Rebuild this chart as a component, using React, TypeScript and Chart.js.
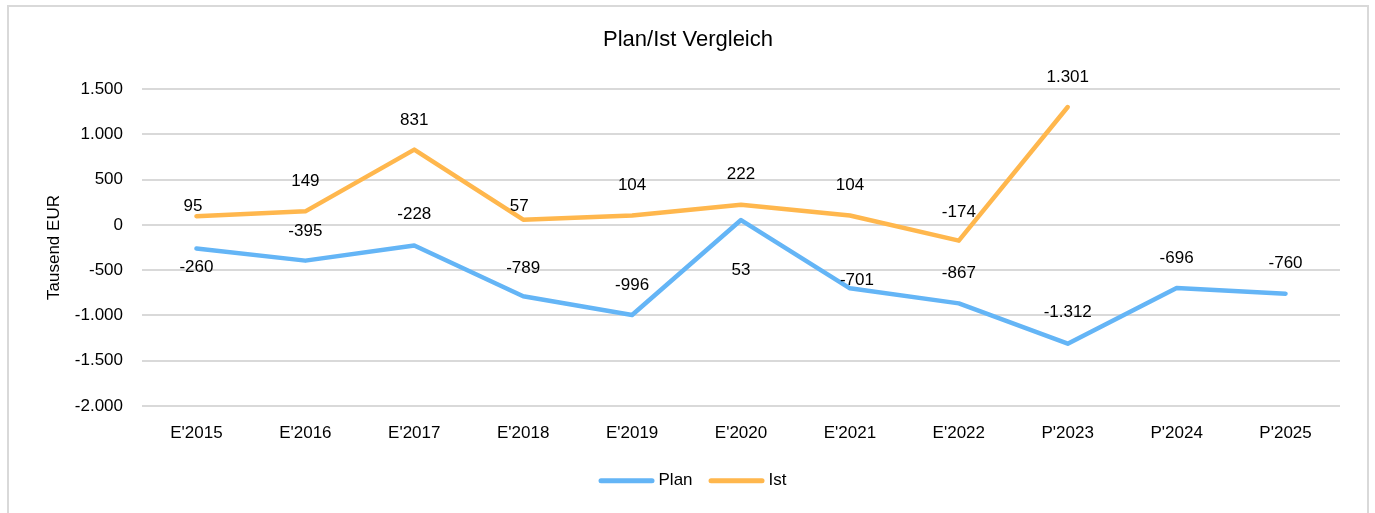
import React, { useEffect, useRef } from "react";
import { Chart, registerables } from "chart.js";

Chart.register(...registerables);

const categories = ["E'2015", "E'2016", "E'2017", "E'2018", "E'2019", "E'2020", "E'2021", "E'2022", "P'2023", "P'2024", "P'2025"];
const planValues = [-260, -395, -228, -789, -996, 53, -701, -867, -1312, -696, -760];
const istValues: (number | null)[] = [95, 149, 831, 57, 104, 222, 104, -174, 1301, null, null];
const yTickMin = -2000;
const yTickMax = 1500;
const yTickStep = 500;

// label placement relative to each point [dx, dy] in px
const planLabelOffsets = [[0, 19], [0, -29], [0, -31], [0, -28], [0, -30], [0, 50], [7, -8], [0, -30], [0, -31], [0, -30], [0, -30]];
const istLabelOffsets = [[-3.5, -10], [0, -30], [0, -29], [-4, -13], [0, -30], [0, -30], [0, -30], [0, -28.6], [0, -30], [0, -30], [0, -30]];

const BLUE = "#64B5F6";
const ORANGE = "#FFB74D";
const FONT = "'Liberation Sans', Arial, sans-serif";
const TEXT = "#000000";

function fmt(v: number): string {
  const s = Math.abs(Math.round(v)).toString();
  const withDots = s.replace(/\B(?=(\d{3})+(?!\d))/g, ".");
  return (v < 0 ? "-" : "") + withDots;
}

const labelPlugin = {
  id: "pointLabels",
  afterDatasetsDraw(chart: any) {
    const ctx = chart.ctx;
    const offsets = [planLabelOffsets, istLabelOffsets];
    ctx.save();
    ctx.font = `17px ${FONT}`;
    ctx.fillStyle = TEXT;
    ctx.textAlign = "center";
    ctx.textBaseline = "middle";
    chart.data.datasets.forEach((ds: any, i: number) => {
      const meta = chart.getDatasetMeta(i);
      meta.data.forEach((pt: any, j: number) => {
        const v = ds.data[j];
        if (v === null || v === undefined) return;
        const [dx, dy] = offsets[i][j];
        ctx.fillText(fmt(v), pt.x + dx, pt.y + dy);
      });
    });
    ctx.restore();
  },
};

// legend drawn below the x axis, in the space reserved by layout padding
const lineLegendPlugin = {
  id: "lineLegend",
  afterDraw(chart: any) {
    const ctx = chart.ctx;
    const lineW = 56;
    const gap = 4;
    const spacing = 16;
    const centerX = 683.5;
    const y = 473.7;
    ctx.save();
    ctx.font = `17px ${FONT}`;
    ctx.textBaseline = "middle";
    ctx.textAlign = "left";
    const items = chart.data.datasets.map((ds: any) => ({
      text: ds.label,
      color: ds.borderColor,
      w: ctx.measureText(ds.label).width,
    }));
    const total = items.reduce((a: number, it: any) => a + lineW + gap + it.w, 0) + spacing * (items.length - 1);
    let x = centerX - total / 2;
    items.forEach((it: any) => {
      ctx.strokeStyle = it.color;
      ctx.lineWidth = 5;
      ctx.lineCap = "round";
      ctx.beginPath();
      ctx.moveTo(x + 2.5, y);
      ctx.lineTo(x + lineW - 2.5, y);
      ctx.stroke();
      ctx.fillStyle = TEXT;
      ctx.fillText(it.text, x + lineW + gap, y);
      x += lineW + gap + it.w + spacing;
    });
    ctx.restore();
  },
};

export default function App() {
  const ref = useRef<HTMLCanvasElement | null>(null);
  useEffect(() => {
    if (!ref.current) return;
    const chart = new Chart(ref.current, {
      type: "line",
      data: {
        labels: categories,
        datasets: [
          {
            label: "Plan",
            data: planValues,
            borderColor: BLUE,
            backgroundColor: BLUE,
            borderWidth: 4.5,
            pointRadius: 0,
            tension: 0,
            borderCapStyle: "round",
            borderJoinStyle: "round",
          },
          {
            label: "Ist",
            data: istValues,
            borderColor: ORANGE,
            backgroundColor: ORANGE,
            borderWidth: 4.5,
            pointRadius: 0,
            tension: 0,
            borderCapStyle: "round",
            borderJoinStyle: "round",
          },
        ],
      },
      options: {
        responsive: false,
        animation: false,
        devicePixelRatio: 1,
        layout: { padding: { top: 0, left: 27, right: 27, bottom: 50.8 } },
        plugins: {
          title: {
            display: true,
            text: "Plan/Ist Vergleich",
            color: TEXT,
            font: { family: FONT, size: 22, weight: "normal" },
            padding: { top: 19.3, bottom: 36.3 },
          },
          legend: { display: false },
          tooltip: { enabled: false },
        },
        scales: {
          x: {
            offset: true,
            grid: { display: false, drawTicks: false },
            border: { display: false },
            ticks: { color: TEXT, font: { family: FONT, size: 17 }, padding: 17, maxRotation: 0, autoSkip: false },
            afterFit: (s: any) => { s.height = 56.2; },
          },
          y: {
            min: yTickMin,
            max: yTickMax,
            grid: { color: "#d9d9d9", lineWidth: 2, drawTicks: false },
            border: { display: false },
            ticks: {
              stepSize: yTickStep,
              color: TEXT,
              font: { family: FONT, size: 17 },
              padding: 19,
              callback: (v: any) => fmt(Number(v)),
            },
            title: {
              display: true,
              text: "Tausend EUR",
              color: TEXT,
              font: { family: FONT, size: 17 },
              padding: { top: 8.5, bottom: 0 },
            },
            afterFit: (s: any) => { s.width = 106; },
          },
        },
      },
      plugins: [labelPlugin, lineLegendPlugin],
    } as any);
    return () => chart.destroy();
  }, []);

  return (
    <div
      style={{
        position: "absolute",
        left: 7,
        top: 5,
        width: 1362,
        height: 508,
        boxSizing: "border-box",
        borderTop: "2px solid #d9d9d9",
        borderLeft: "2px solid #d9d9d9",
        borderRight: "2px solid #d9d9d9",
        background: "#fff",
        overflow: "hidden",
      }}
    >
      <canvas ref={ref} width={1358} height={506} style={{ display: "block" }} />
    </div>
  );
}
